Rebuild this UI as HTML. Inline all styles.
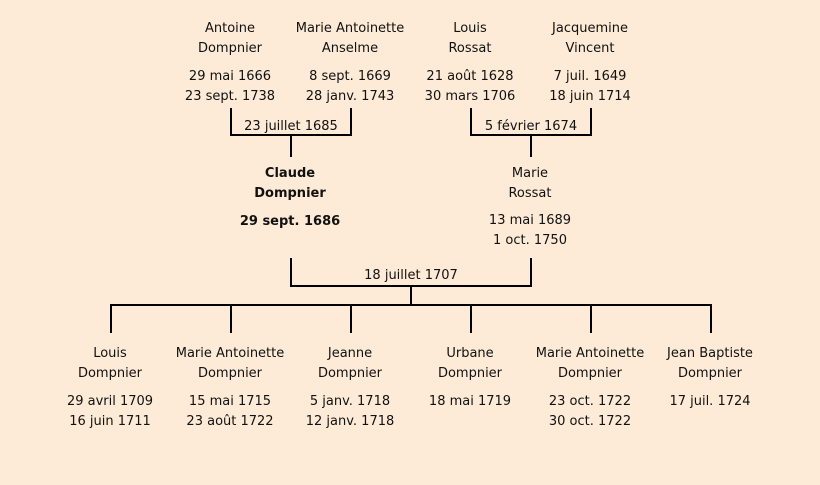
<!DOCTYPE html>
<html><head><meta charset="utf-8"><style>
html,body{margin:0;padding:0;background:#fdebd7;}
svg{display:block;}
text{font-family:"DejaVu Sans","Liberation Sans",sans-serif;font-size:13px;fill:#111;text-anchor:middle;}
.b{font-weight:bold;}
</style></head><body>
<svg width="820" height="485" viewBox="0 0 820 485">
<rect width="820" height="485" fill="#fdebd7"/>
<g stroke="#000" stroke-width="2" fill="none">
<path d="M231 108V135H351V108M291 135V157"/>
<path d="M471 108V135H591V108M531 135V157"/>
<path d="M291 258V286H531V258M411 286V305"/>
<path d="M111 333V305H711V333M231 305V333M351 305V333M471 305V333M591 305V333"/>
</g>
<text x="230" y="32">Antoine</text><text x="230" y="52">Dompnier</text>
<text x="230" y="80">29 mai 1666</text><text x="230" y="100">23 sept. 1738</text>
<text x="350" y="32">Marie Antoinette</text><text x="350" y="52">Anselme</text>
<text x="350" y="80">8 sept. 1669</text><text x="350" y="100">28 janv. 1743</text>
<text x="470" y="32">Louis</text><text x="470" y="52">Rossat</text>
<text x="470" y="80">21 août 1628</text><text x="470" y="100">30 mars 1706</text>
<text x="590" y="32">Jacquemine</text><text x="590" y="52">Vincent</text>
<text x="590" y="80">7 juil. 1649</text><text x="590" y="100">18 juin 1714</text>
<text x="291" y="130">23 juillet 1685</text>
<text x="531" y="130">5 février 1674</text>
<text class="b" x="290" y="177">Claude</text><text class="b" x="290" y="197">Dompnier</text>
<text class="b" x="290" y="225">29 sept. 1686</text>
<text x="530" y="177">Marie</text><text x="530" y="197">Rossat</text>
<text x="530" y="224">13 mai 1689</text><text x="530" y="244">1 oct. 1750</text>
<text x="411" y="279">18 juillet 1707</text>
<text x="110" y="357">Louis</text><text x="110" y="377">Dompnier</text>
<text x="110" y="405">29 avril 1709</text><text x="110" y="425">16 juin 1711</text>
<text x="230" y="357">Marie Antoinette</text><text x="230" y="377">Dompnier</text>
<text x="230" y="405">15 mai 1715</text><text x="230" y="425">23 août 1722</text>
<text x="350" y="357">Jeanne</text><text x="350" y="377">Dompnier</text>
<text x="350" y="405">5 janv. 1718</text><text x="350" y="425">12 janv. 1718</text>
<text x="470" y="357">Urbane</text><text x="470" y="377">Dompnier</text>
<text x="470" y="405">18 mai 1719</text>
<text x="590" y="357">Marie Antoinette</text><text x="590" y="377">Dompnier</text>
<text x="590" y="405">23 oct. 1722</text><text x="590" y="425">30 oct. 1722</text>
<text x="710" y="357">Jean Baptiste</text><text x="710" y="377">Dompnier</text>
<text x="710" y="405">17 juil. 1724</text>
</svg>
</body></html>
